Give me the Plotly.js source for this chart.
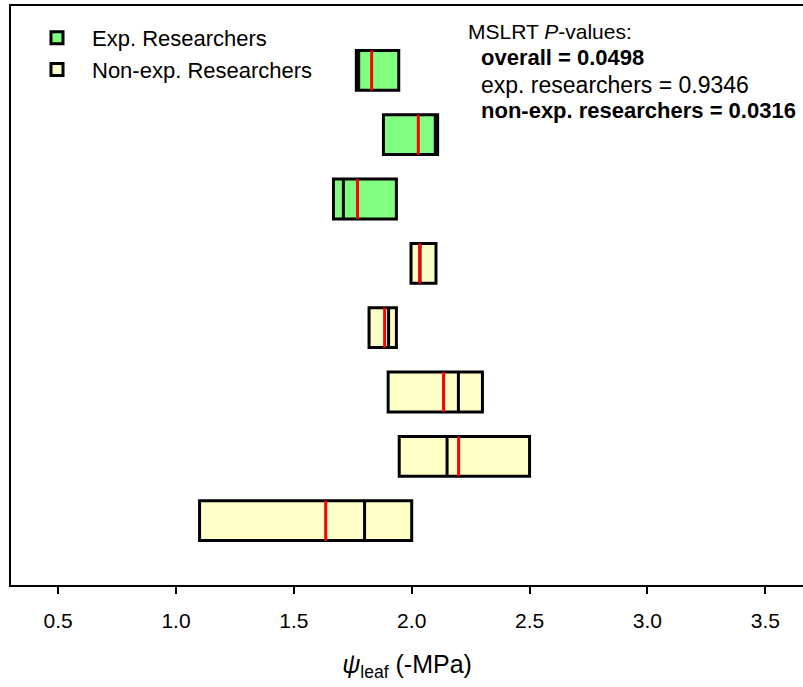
<!DOCTYPE html>
<html>
<head>
<meta charset="utf-8">
<script src="https://cdn.plot.ly/plotly-3.0.1.min.js"></script>
<style>html,body{margin:0;padding:0;background:#fff;}#chart{width:803px;height:687px;}</style>
</head>
<body>
<div id="chart"></div>
<script>
// Data (psi_leaf, -MPa), rows top to bottom
const expRows = [1, 2, 3];
const expQ1 = [1.765, 1.880, 1.668];
const expQ3 = [1.945, 2.110, 1.935];
const expMedian = [1.775, 2.100, 1.710];
const expMean = [1.830, 2.028, 1.770];

const nonRows = [4, 5, 6, 7, 8];
const nonQ1 = [1.997, 1.819, 1.900, 1.947, 1.100];
const nonQ3 = [2.103, 1.935, 2.300, 2.500, 2.000];
const nonMedian = [2.035, 1.902, 2.198, 2.150, 1.800];
const nonMean = [2.034, 1.885, 2.135, 2.199, 1.635];

const xTickVals = [0.5, 1.0, 1.5, 2.0, 2.5, 3.0, 3.5];
const xTickText = ['0.5', '1.0', '1.5', '2.0', '2.5', '3.0', '3.5'];

const BOXW = 0.62;
const FONT = 'Liberation Sans, Arial, sans-serif';

function segs(vals, rows) {
  const x = [], y = [];
  vals.forEach((v, i) => {
    x.push(v, v, null);
    y.push(rows[i] - BOXW / 2, rows[i] + BOXW / 2, null);
  });
  return {x, y};
}

const allRows = expRows.concat(nonRows);
const medSeg = segs(expMedian.concat(nonMedian), allRows);
const meanSeg = segs(expMean.concat(nonMean), allRows);

const traces = [
  {
    type: 'bar', orientation: 'h', name: 'Exp. Researchers',
    y: expRows, base: expQ1, x: expQ3.map((v, i) => v - expQ1[i]),
    width: BOXW,
    marker: {color: '#80FF80', line: {color: '#000', width: 3}},
    hoverinfo: 'skip'
  },
  {
    type: 'bar', orientation: 'h', name: 'Non-exp. Researchers',
    y: nonRows, base: nonQ1, x: nonQ3.map((v, i) => v - nonQ1[i]),
    width: BOXW,
    marker: {color: '#FFFFC8', line: {color: '#000', width: 3}},
    hoverinfo: 'skip'
  },
  {
    type: 'scatter', mode: 'lines', name: 'median', showlegend: false,
    x: medSeg.x, y: medSeg.y, line: {color: '#000', width: 3}, hoverinfo: 'skip'
  },
  {
    type: 'scatter', mode: 'lines', name: 'mean', showlegend: false,
    x: meanSeg.x, y: meanSeg.y, line: {color: '#FF0000', width: 3}, hoverinfo: 'skip'
  }
];

const pxX = px => (px - 11) / 792;
const pxY = py => (585 - py) / 579;

const layout = {
  width: 803, height: 687,
  margin: {l: 11, r: 0, t: 6, b: 102},
  paper_bgcolor: '#fff', plot_bgcolor: '#fff',
  barmode: 'overlay',
  font: {family: FONT, size: 21, color: '#000'},
  showlegend: true,
  legend: {
    x: pxX(22), y: pxY(17), xanchor: 'left', yanchor: 'top',
    bgcolor: 'rgba(0,0,0,0)', font: {family: FONT, size: 22, color: '#000'},
    tracegroupgap: 0, itemwidth: 60
  },
  xaxis: {
    range: [0.3, 3.66], tickvals: xTickVals, ticktext: xTickText,
    ticks: 'outside', ticklen: 7, tickwidth: 2, tickcolor: '#000',
    showline: true, linecolor: '#000', linewidth: 2, mirror: true,
    showgrid: false, zeroline: false,
    tickfont: {family: FONT, size: 21, color: '#000'},
    ticklabelstandoff: 9,
    title: {text: '<i>ψ</i><sub>leaf</sub> (-MPa)', font: {family: FONT, size: 25, color: '#000'}, standoff: 24}
  },
  yaxis: {
    range: [9, 0], showticklabels: false, ticks: '',
    showline: true, linecolor: '#000', linewidth: 2, mirror: false,
    showgrid: false, zeroline: false
  },
  annotations: [
    {xref: 'paper', yref: 'paper', x: pxX(466), y: pxY(32), xanchor: 'left', yanchor: 'middle', showarrow: false,
     text: 'MSLRT <i>P</i>-values:', font: {family: FONT, size: 21, color: '#000'}},
    {xref: 'paper', yref: 'paper', x: pxX(479), y: pxY(58), xanchor: 'left', yanchor: 'middle', showarrow: false,
     text: '<b>overall = 0.0498</b>', font: {family: FONT, size: 22, color: '#000'}},
    {xref: 'paper', yref: 'paper', x: pxX(479), y: pxY(85), xanchor: 'left', yanchor: 'middle', showarrow: false,
     text: 'exp. researchers = 0.9346', font: {family: FONT, size: 23, color: '#000'}},
    {xref: 'paper', yref: 'paper', x: pxX(479), y: pxY(111), xanchor: 'left', yanchor: 'middle', showarrow: false,
     text: '<b>non-exp. researchers = 0.0316</b>', font: {family: FONT, size: 22, color: '#000'}}
  ]
};

Plotly.newPlot('chart', traces, layout, {displayModeBar: false, staticPlot: true});
</script>
</body>
</html>
